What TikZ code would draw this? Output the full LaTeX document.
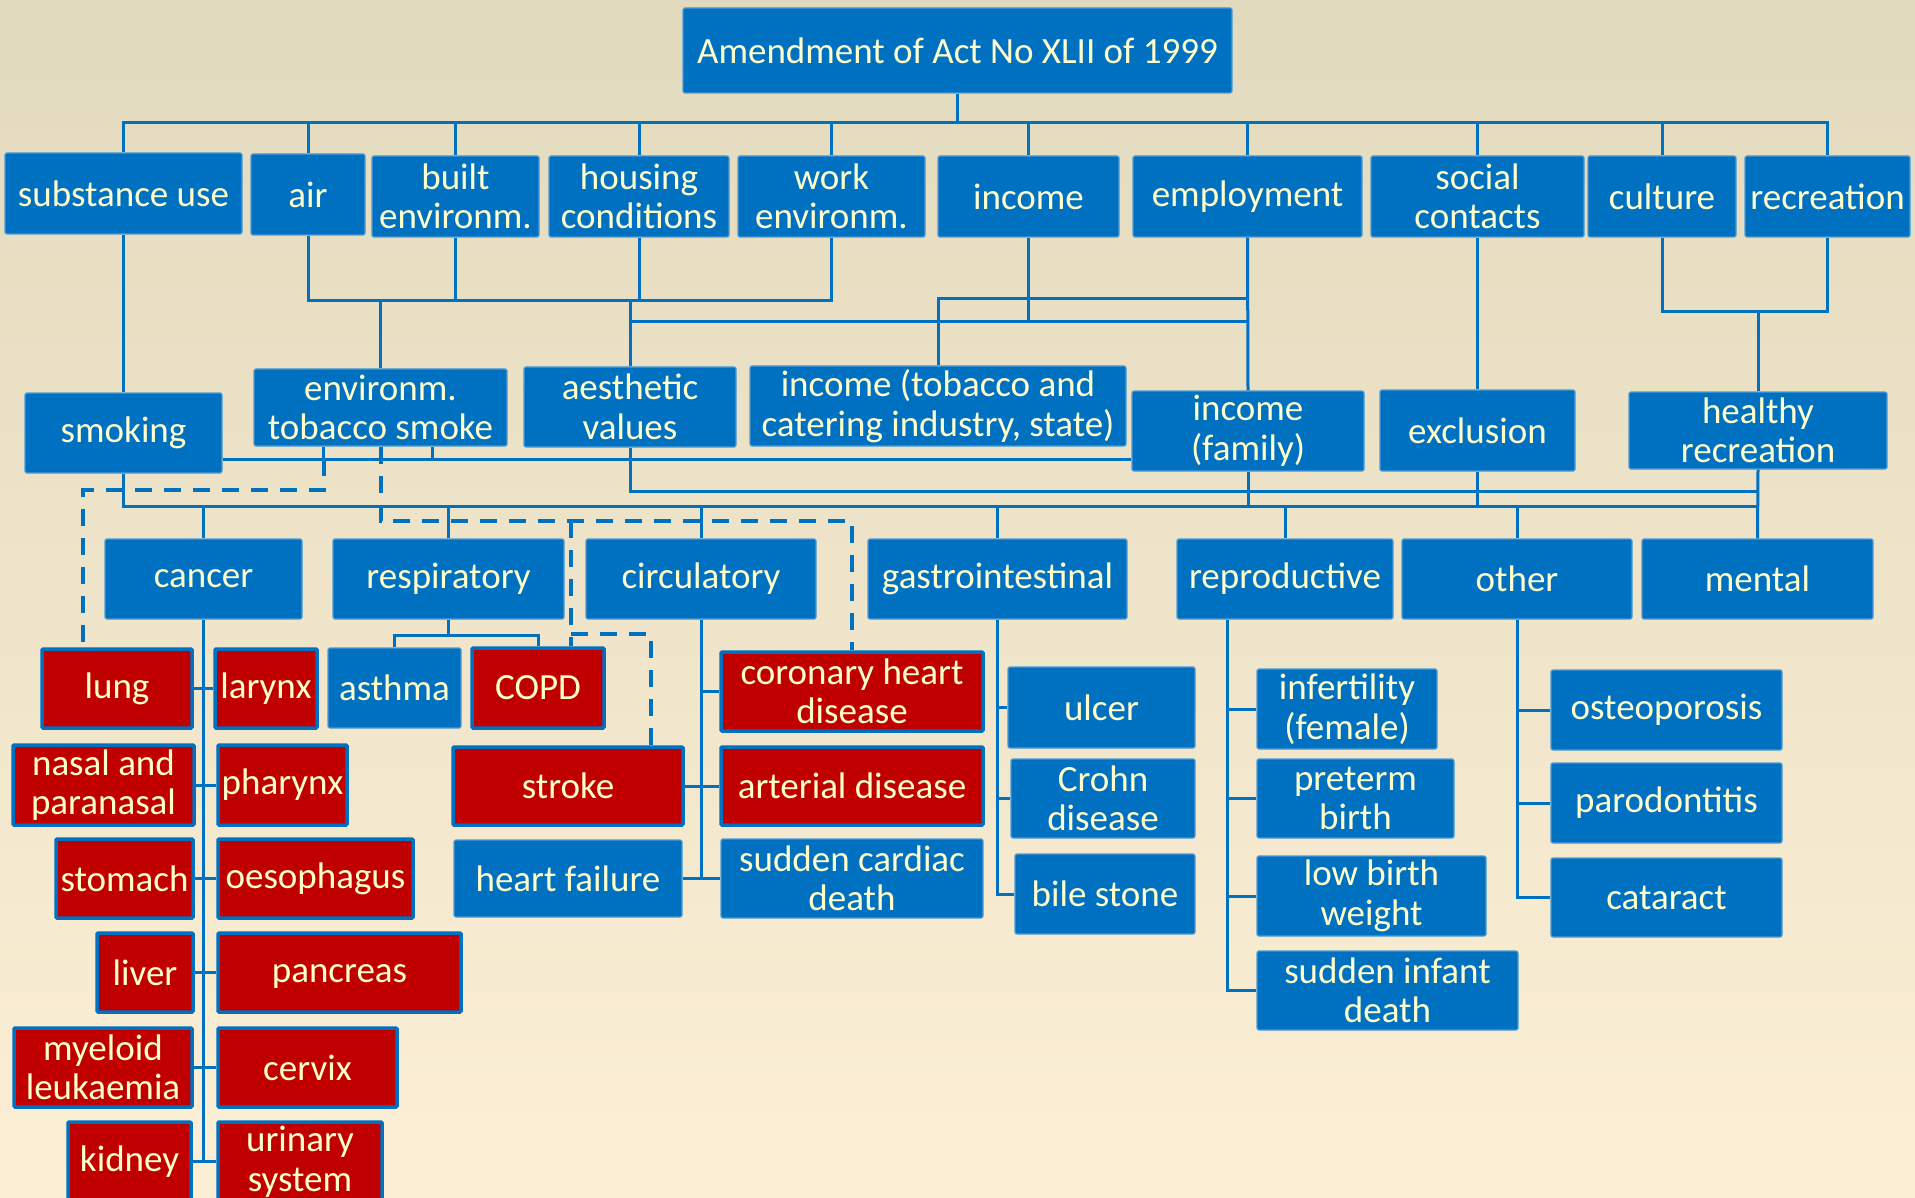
\documentclass[tikz,border=0pt]{standalone}
\usepackage{fontspec}
\setmainfont{Carlito}
\usepackage{tikz}

\definecolor{boxblue}{HTML}{0070C0}
\definecolor{boxred}{HTML}{C00000}
\definecolor{boxtext}{HTML}{FFFFCC}
\definecolor{bgtop}{HTML}{E2DABE}
\definecolor{bgbottom}{HTML}{FCEFD5}
\newcommand\diagfont{\fontsize{37}{39.5}\selectfont}

\tikzset{
  bbox/.style={fill=boxblue, draw=boxblue!70!white, line width=1.2pt, rounded corners=2pt,
    text=boxtext, font=\diagfont, align=center, inner sep=0pt},
  rbox/.style={bbox, fill=boxred, draw=boxblue, line width=3.5pt, rounded corners=1pt},
  link/.style={draw=boxblue, line width=3pt},
  dashlink/.style={draw=boxblue, line width=4pt, dash pattern=on 17pt off 12pt}
}

\begin{document}
\begin{tikzpicture}[x=1pt,y=-1pt]
    \useasboundingbox (0,0) rectangle (1915,1198);
    \shade[top color=bgtop, bottom color=bgbottom] (0,0) rectangle (1915,1198);
    \clip (0,0) rectangle (1915,1198);

    % act and determinants
    \node[bbox, minimum width=549pt, minimum height=85pt] (top) at (957.5,50.5) {Amendment of Act No XLII of 1999};
    \node[bbox, minimum width=237pt, minimum height=81pt] (subst) at (123.5,193.5) {substance use};
    \node[bbox, minimum width=114pt, minimum height=81pt] (air) at (308,194.5) {air};
    \node[bbox, minimum width=167pt, minimum height=81pt] (built) at (455.5,196.5) {built\\environm.};
    \node[bbox, minimum width=180pt, minimum height=81pt] (housing) at (639,196.5) {housing\\conditions};
    \node[bbox, minimum width=187pt, minimum height=81pt] (work) at (831.5,196.5) {work\\environm.};
    \node[bbox, minimum width=181pt, minimum height=81pt] (income) at (1028.5,196.5) {income};
    \node[bbox, minimum width=229pt, minimum height=81pt] (employ) at (1247.5,196.5) {employment};
    \node[bbox, minimum width=213pt, minimum height=81pt] (social) at (1477.5,196.5) {social\\contacts};
    \node[bbox, minimum width=148pt, minimum height=81pt] (culture) at (1662,196.5) {culture};
    \node[bbox, minimum width=165pt, minimum height=81pt] (recr) at (1827.5,196.5) {recreation};

    % mediators
    \node[bbox, minimum width=197pt, minimum height=80pt] (smoking) at (123.5,433) {smoking};
    \node[bbox, minimum width=253pt, minimum height=77pt] (ets) at (380.5,407.5) {environm.\\tobacco smoke};
    \node[bbox, minimum width=212pt, minimum height=80pt] (aesth) at (630,407) {aesthetic\\values};
    \node[bbox, minimum width=376pt, minimum height=80pt] (inctob) at (938,406) {income (tobacco and\\catering industry, state)};
    \node[bbox, minimum width=232pt, minimum height=80pt] (incfam) at (1248,431) {income\\(family)};
    \node[bbox, minimum width=195pt, minimum height=81pt] (excl) at (1477.5,430.5) {exclusion};
    \node[bbox, minimum width=258pt, minimum height=77pt] (healthy) at (1758,430.5) {healthy\\recreation};

    % disease groups
    \node[bbox, minimum width=197pt, minimum height=80pt] (cancer) at (203.5,579) {cancer};
    \node[bbox, minimum width=231pt, minimum height=80pt] (resp) at (448.5,579) {respiratory};
    \node[bbox, minimum width=230pt, minimum height=80pt] (circ) at (701,579) {circulatory};
    \node[bbox, minimum width=259pt, minimum height=80pt] (gastro) at (997.5,579) {gastrointestinal};
    \node[bbox, minimum width=216pt, minimum height=80pt] (repro) at (1285,579) {reproductive};
    \node[bbox, minimum width=230pt, minimum height=80pt] (other) at (1517,579) {other};
    \node[bbox, minimum width=231pt, minimum height=80pt] (mental) at (1757.5,579) {mental};

    % cancer
    \node[rbox, minimum width=150pt, minimum height=79pt] (lung) at (117,688.5) {lung};
    \node[rbox, minimum width=102pt, minimum height=79pt] (larynx) at (266,688.5) {larynx};
    \node[rbox, minimum width=181pt, minimum height=80pt] (nasal) at (103.5,785) {nasal and\\paranasal};
    \node[rbox, minimum width=129pt, minimum height=80pt] (pharynx) at (282.5,785) {pharynx};
    \node[rbox, minimum width=137pt, minimum height=79pt] (stomach) at (124.5,878.5) {stomach};
    \node[rbox, minimum width=195pt, minimum height=79pt] (oesoph) at (315.5,878.5) {oesophagus};
    \node[rbox, minimum width=96pt, minimum height=79pt] (liver) at (145,972.5) {liver};
    \node[rbox, minimum width=243pt, minimum height=79pt] (pancreas) at (339.5,972.5) {\vphantom{l}pancreas};
    \node[rbox, minimum width=178pt, minimum height=79pt] (myeloid) at (103,1067.5) {myeloid\\leukaemia};
    \node[rbox, minimum width=179pt, minimum height=79pt] (cervix) at (307.5,1067.5) {cervix};
    \node[rbox, minimum width=123pt, minimum height=79pt] (kidney) at (129.5,1161.5) {kidney};
    \node[rbox, minimum width=164pt, minimum height=79pt] (urinary) at (300,1161.5) {urinary\\system};

    % respiratory
    \node[bbox, minimum width=133pt, minimum height=80pt] (asthma) at (394.5,688) {asthma};
    \node[rbox, minimum width=132pt, minimum height=80pt] (copd) at (538,688) {COPD};

    % circulatory
    \node[rbox, minimum width=230pt, minimum height=78pt] (stroke) at (568,786) {stroke};
    \node[bbox, minimum width=228pt, minimum height=77pt] (hf) at (568,878.5) {heart failure};
    \node[rbox, minimum width=262pt, minimum height=79pt] (chd) at (852,691.5) {coronary heart\\disease};
    \node[rbox, minimum width=262pt, minimum height=78pt] (art) at (852,786) {arterial disease};
    \node[bbox, minimum width=262pt, minimum height=79pt] (scd) at (852,878.5) {sudden cardiac\\death};

    % gastrointestinal
    \node[bbox, minimum width=187pt, minimum height=81pt] (ulcer) at (1101.5,707.5) {ulcer};
    \node[bbox, minimum width=184pt, minimum height=79pt] (crohn) at (1103,798.5) {Crohn\\disease};
    \node[bbox, minimum width=180pt, minimum height=80pt] (bile) at (1105,894) {bile stone};

    % reproductive
    \node[bbox, minimum width=180pt, minimum height=80pt] (infert) at (1347,709) {infertility\\(female)};
    \node[bbox, minimum width=197pt, minimum height=79pt] (preterm) at (1355.5,798.5) {preterm\\birth};
    \node[bbox, minimum width=229pt, minimum height=80pt] (lbw) at (1371.5,896) {low birth\\weight};
    \node[bbox, minimum width=261pt, minimum height=79pt] (sid) at (1387.5,990.5) {sudden infant\\death};

    % other
    \node[bbox, minimum width=231pt, minimum height=80pt] (osteo) at (1666.5,710) {osteoporosis};
    \node[bbox, minimum width=231pt, minimum height=80pt] (parod) at (1666.5,803) {parodontitis};
    \node[bbox, minimum width=231pt, minimum height=79pt] (cat) at (1666.5,897.5) {cataract};

    % bus levels
    \coordinate (bustop) at (0,123);
    \coordinate (busemp) at (0,299);
    \coordinate (busenv) at (0,301);
    \coordinate (busrec) at (0,312);
    \coordinate (businc) at (0,322);
    \coordinate (bussmk) at (0,459);
    \coordinate (dlung) at (0,490);
    \coordinate (busaes) at (0,491);
    \coordinate (busdis) at (0,506);
    \coordinate (dcirc) at (0,521);
    \coordinate (dcopd) at (0,634);
    \coordinate (busresp) at (0,635);

    % act to determinants
    \draw[link] (top.south) -- (top.south |- bustop);
    \draw[link] (subst.north) -- (subst.north |- bustop) -- (recr.north |- bustop) -- (recr.north);
    \foreach \n in {air,built,housing,work,income,employ,social,culture}
        \draw[link] (\n.north) -- (\n.north |- bustop);

    % determinants to mediators
    \draw[link] (subst.south) -- (smoking.north);
    \draw[link] (air.south) -- (air.south |- busenv) -- (work.south |- busenv) -- (work.south);
    \foreach \n in {built,housing}
        \draw[link] (\n.south) -- (\n.south |- busenv);
    \draw[link] (ets.north) -- (ets.north |- busenv);
    \draw[link] (aesth.north) -- (aesth.north |- busenv);
    \draw[link] (aesth.north |- businc) -- (employ.south |- businc);
    \draw[link] (income.south) -- (income.south |- businc);
    \draw[link] (employ.south) -- (incfam.north);
    \draw[link] (inctob.north) -- (inctob.north |- busemp) -- (employ.south |- busemp);
    \draw[link] (social.south) -- (excl.north);
    \draw[link] (culture.south) -- (culture.south |- busrec) -- (recr.south |- busrec) -- (recr.south);
    \draw[link] (healthy.north) -- (healthy.north |- busrec);

    % mediators to disease groups
    \draw[link] (smoking.south) -- (smoking.south |- busdis) -- (mental.north |- busdis);
    \draw[link] (healthy.south) -- (mental.north);
    \foreach \n in {cancer,resp,circ,gastro,repro,other}
        \draw[link] (\n.north) -- (\n.north |- busdis);
    \foreach \n in {incfam,excl}
        \draw[link] (\n.south) -- (\n.south |- busdis);
    \draw[link] (aesth.south) -- (aesth.south |- busaes) -- (healthy.south |- busaes);
    \draw[link] (smoking.east |- bussmk) -- (incfam.west |- bussmk);
    \coordinate (etsL) at ([xshift=-57pt]ets.south);
    \coordinate (etsR) at ([xshift=52pt]ets.south);
    \foreach \n in {etsL,etsR}
        \draw[link] (\n) -- (\n |- bussmk);

    % passive smoking
    \coordinate (lungtap) at ([xshift=-34pt]lung.north);
    \coordinate (copdtap) at ([xshift=33pt]copd.north);
    \coordinate (stroketap) at ([xshift=83pt]stroke.north);
    \draw[dashlink] (etsL |- bussmk) -- (etsL |- dlung) -| (lungtap);
    \draw[dashlink] (ets.south) -- (ets.south |- dcirc) -| (chd.north);
    \draw[dashlink] (copdtap |- dcirc) -- (copdtap);
    \draw[dashlink] (copdtap |- dcopd) -| (stroketap);

    % cancer
    \draw[link] (cancer.south) -- (cancer.south |- kidney);
    \foreach \a/\b in {lung/larynx,nasal/pharynx,stomach/oesoph,liver/pancreas,myeloid/cervix,kidney/urinary}
        \draw[link] (\a.east) -- (\b.west);

    % respiratory
    \draw[link] (resp.south) -- (resp.south |- busresp);
    \draw[link] (asthma.north) -- (asthma.north |- busresp) -- (copd.north |- busresp) -- (copd.north);

    % circulatory
    \draw[link] (circ.south) |- (scd.west);
    \draw[link] (circ.south |- chd) -- (chd.west);
    \draw[link] (stroke.east) -- (art.west);
    \draw[link] (hf.east) -- (scd.west);

    % gastrointestinal
    \draw[link] (gastro.south) |- (bile.west);
    \foreach \n in {ulcer,crohn}
        \draw[link] (gastro.south |- \n) -- (\n.west);

    % reproductive
    \coordinate (reprotap) at ([xshift=-58pt]repro.south);
    \draw[link] (reprotap) |- (sid.west);
    \foreach \n in {infert,preterm,lbw}
        \draw[link] (reprotap |- \n) -- (\n.west);

    % other
    \draw[link] (other.south) |- (cat.west);
    \foreach \n in {osteo,parod}
        \draw[link] (other.south |- \n) -- (\n.west);
\end{tikzpicture}
\end{document}
